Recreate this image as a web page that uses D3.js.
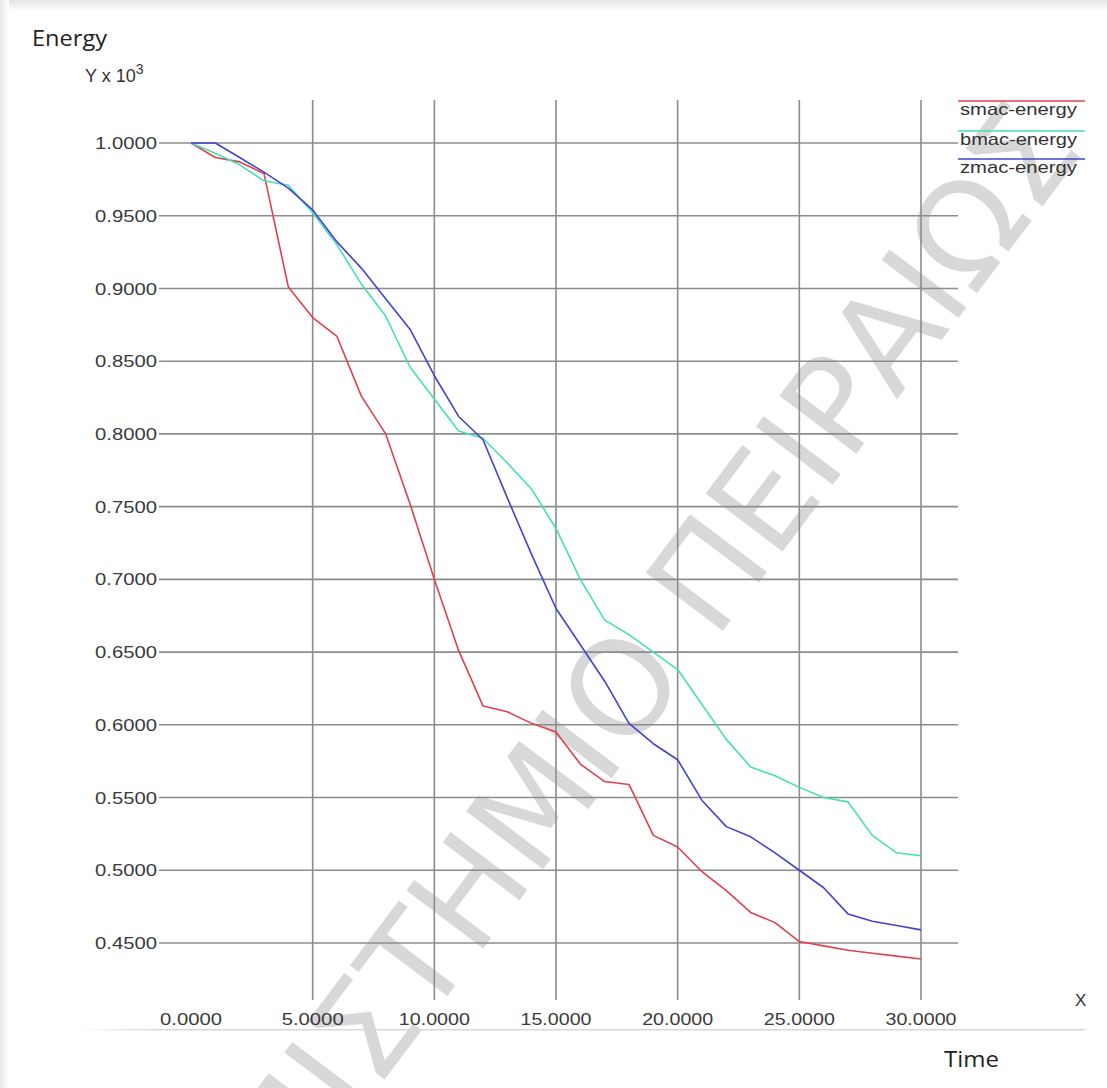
<!DOCTYPE html>
<html><head><meta charset="utf-8">
<script src="https://cdn.jsdelivr.net/npm/d3@7"></script>
<style>body{margin:0;background:#fff}svg{display:block}</style>
</head><body><svg id="c" width="1107" height="1088"></svg>
<script>
const time = [0,1,2,3,4,5,6,7,8,9,10,11,12,13,14,15,16,17,18,19,20,21,22,23,24,25,26,27,28,29,30];
const smac = [1.000,0.990,0.987,0.979,0.901,0.880,0.867,0.826,0.800,0.752,0.700,0.651,0.613,0.609,0.601,0.595,0.573,0.561,0.559,0.524,0.516,0.499,0.486,0.471,0.464,0.451,0.448,0.445,0.443,0.441,0.439];
const bmac = [1.000,0.993,0.985,0.974,0.971,0.952,0.930,0.903,0.881,0.846,0.824,0.802,0.797,0.780,0.762,0.735,0.700,0.672,0.662,0.650,0.638,0.614,0.590,0.571,0.565,0.557,0.550,0.547,0.524,0.512,0.510];
const zmac = [1.000,1.000,0.990,0.980,0.969,0.954,0.932,0.914,0.893,0.872,0.840,0.812,0.796,0.756,0.717,0.680,0.655,0.630,0.601,0.587,0.576,0.548,0.530,0.523,0.512,0.500,0.488,0.470,0.465,0.462,0.459];
const seriesNames = ["smac-energy","bmac-energy","zmac-energy"];
const seriesColors = ["#e2404e","#45e0b4","#4343cf"];
const xTicks = [0,5,10,15,20,25,30];
const yTicks = [1.0,0.95,0.9,0.85,0.8,0.75,0.7,0.65,0.6,0.55,0.5,0.45];

const svg = d3.select("#c");
const x = d3.scaleLinear().domain([0,30]).range([191,921]);
const y = d3.scaleLinear().domain([0.45,1.0]).range([943,143]);
const fmt = d3.format(".4f");

// frame shadow
const defs = svg.append("defs");
const gt = defs.append("linearGradient").attr("id","gt").attr("x1",0).attr("y1",0).attr("x2",0).attr("y2",1);
gt.append("stop").attr("offset",0).attr("stop-color","#e4e4e4");
gt.append("stop").attr("offset",1).attr("stop-color","#ffffff");
const gl = defs.append("linearGradient").attr("id","gl").attr("x1",0).attr("y1",0).attr("x2",1).attr("y2",0);
gl.append("stop").attr("offset",0).attr("stop-color","#e8e8e8");
gl.append("stop").attr("offset",1).attr("stop-color","#ffffff");
const gb = defs.append("linearGradient").attr("id","gb").attr("x1",0).attr("y1",0).attr("x2",1).attr("y2",0);
gb.append("stop").attr("offset",0).attr("stop-color","#ffffff");
gb.append("stop").attr("offset",0.08).attr("stop-color","#d8d8d8");
gb.append("stop").attr("offset",1).attr("stop-color","#d8d8d8");
svg.append("rect").attr("x",0).attr("y",0).attr("width",1107).attr("height",12).attr("fill","url(#gt)");
svg.append("rect").attr("x",0).attr("y",0).attr("width",9).attr("height",1088).attr("fill","url(#gl)");

// watermark
svg.append("text")
  .attr("transform","translate(1085,150) rotate(-53)")
  .attr("text-anchor","end")
  .attr("font-family","DejaVu Sans")
  .attr("font-size",132)
  .attr("fill","#c8c8c8").attr("fill-opacity",0.7)
  .text("ΠΑΝΕΠΙΣΤΗΜΙΟ ΠΕΙΡΑΙΩΣ");

// grid
const grid = svg.append("g").attr("stroke","#8c8c8c").attr("stroke-width",1.6);
grid.selectAll("line.h").data(yTicks).join("line").attr("class","h")
  .attr("x1",159).attr("x2",958).attr("y1",d=>y(d)).attr("y2",d=>y(d));
grid.selectAll("line.v").data(xTicks.filter(d=>d>0)).join("line").attr("class","v")
  .attr("x1",d=>x(d)).attr("x2",d=>x(d)).attr("y1",100).attr("y2",1000);

// tick labels
svg.append("g").selectAll("text").data(yTicks).join("text")
  .attr("x",157).attr("y",d=>y(d)).attr("dy","0.36em").attr("text-anchor","end")
  .attr("font-family","Liberation Sans").attr("font-size",17).attr("fill","#3a3a3a")
  .attr("textLength",62).attr("lengthAdjust","spacingAndGlyphs")
  .text(d=>fmt(d));
svg.append("g").selectAll("text").data(xTicks).join("text")
  .attr("x",d=>x(d)).attr("y",1025).attr("text-anchor","middle")
  .attr("font-family","Liberation Sans").attr("font-size",17).attr("fill","#3a3a3a")
  .text(d=>fmt(d))
  .each(function(d){ const n=fmt(d).length; d3.select(this).attr("textLength", n===6?62:71).attr("lengthAdjust","spacingAndGlyphs"); });

// bottom rule
svg.append("rect").attr("x",77).attr("y",1029).attr("width",1008).attr("height",1.5).attr("fill","url(#gb)");

// titles
svg.append("text").attr("x",32).attr("y",46).attr("font-family","Open Sans").attr("font-size",21).attr("fill","#222")
  .attr("textLength",75).attr("lengthAdjust","spacingAndGlyphs").text("Energy");
const yl = svg.append("text").attr("x",85).attr("y",82).attr("font-family","Liberation Sans").attr("font-size",18).attr("fill","#333");
yl.append("tspan").text("Y x 10");
yl.append("tspan").attr("dy",-8).attr("font-size",14).text("3");
svg.append("text").attr("x",1075).attr("y",1006).attr("font-family","Liberation Sans").attr("font-size",17).attr("fill","#333").text("X");
svg.append("text").attr("x",944).attr("y",1067).attr("font-family","Open Sans").attr("font-size",21).attr("fill","#222")
  .attr("textLength",55).attr("lengthAdjust","spacingAndGlyphs").text("Time");

// lines
const line = d3.line().x((d,i)=>x(time[i])).y(d=>y(d));
const allSeries = [smac,bmac,zmac];
svg.append("g").selectAll("path").data(allSeries).join("path")
  .attr("d",line).attr("fill","none")
  .attr("stroke",(d,i)=>seriesColors[i]).attr("stroke-width",1.6).attr("stroke-linejoin","round");

// legend
const lg = svg.append("g");
const legY = [101,131,159];
seriesNames.forEach((n,i)=>{
  lg.append("line").attr("x1",958).attr("x2",1085).attr("y1",legY[i]).attr("y2",legY[i])
    .attr("stroke",seriesColors[i]).attr("stroke-width",1.6);
  lg.append("text").attr("x",960).attr("y",legY[i]+14).attr("font-family","Liberation Sans")
    .attr("font-size",17).attr("fill","#333")
    .attr("textLength",117).attr("lengthAdjust","spacingAndGlyphs").text(n);
});
</script></body></html>
